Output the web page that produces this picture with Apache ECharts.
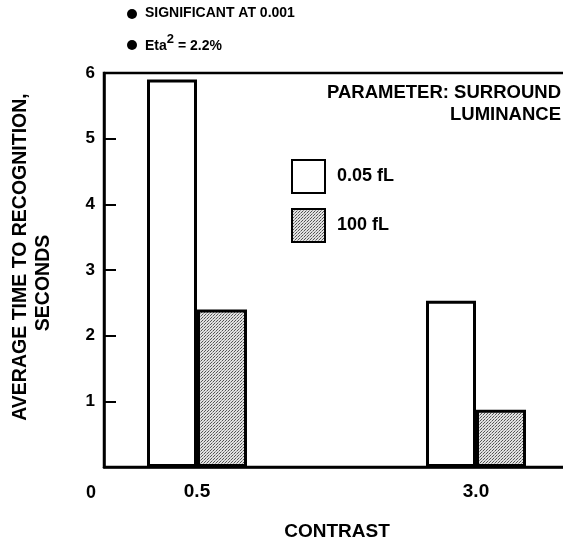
<!DOCTYPE html>
<html>
<head>
<meta charset="utf-8">
<script src="https://cdn.jsdelivr.net/npm/echarts@6/dist/echarts.min.js"></script>
<style>html,body{margin:0;padding:0;background:#fff}#c{width:563px;height:543px}</style>
</head>
<body>
<div id="c"></div>
<script>
// ---- data ----
const categories = ['0.5', '3.0'];
const seriesNames = ['0.05 fL', '100 fL'];
const lowSurround = [5.9, 2.53];
const highSurround = [2.4, 0.87];
const yTicks = [0, 1, 2, 3, 4, 5, 6];
const notes = ['SIGNIFICANT AT 0.001', 'Eta', '2', ' = 2.2%'];
const paramNote = ['PARAMETER: SURROUND', 'LUMINANCE'];
const yTitle = ['AVERAGE TIME TO RECOGNITION,', 'SECONDS'];
const xTitle = 'CONTRAST';
const originLabel = '0';

// ---- layout: categories placed on a slotted axis ----
const slotCount = 6;
const slotOf = [1, 4];
const axisData = new Array(slotCount).fill('');
categories.forEach((c, i) => { axisData[slotOf[i]] = c; });
function toSlots(vals) {
  const arr = new Array(slotCount).fill('-');
  vals.forEach((v, i) => { arr[slotOf[i]] = v; });
  return arr;
}

// dotted pattern
const pc = document.createElement('canvas');
pc.width = 3; pc.height = 3;
const pctx = pc.getContext('2d');
pctx.fillStyle = '#e2e2e2'; pctx.fillRect(0, 0, 3, 3);
pctx.fillStyle = '#555'; pctx.fillRect(0, 0, 1, 1); pctx.fillRect(1, 2, 1, 1);
pctx.fillStyle = '#999'; pctx.fillRect(2, 1, 1, 1);
const dotted = { image: pc, repeat: 'repeat' };

const FONT = 'Liberation Sans';
const chart = echarts.init(document.getElementById('c'), null, { renderer: 'canvas' });
chart.setOption({
  animation: false,
  backgroundColor: '#fff',
  textStyle: { fontFamily: FONT, fontWeight: 'bold', color: '#000' },
  grid: { left: 104, top: 73, height: 394, width: 465, outerBoundsMode: 'none', containLabel: false,
          show: true, borderColor: '#000', borderWidth: 2.5, backgroundColor: 'transparent' },
  legend: {
    orient: 'vertical', left: 286, top: 154, itemWidth: 33, itemHeight: 33, itemGap: 14,
    icon: 'rect',
    textStyle: { fontFamily: FONT, fontWeight: 'bold', fontSize: 18, color: '#000', padding: [0, 0, 0, 7] },
    data: seriesNames
  },
  xAxis: {
    type: 'category', data: axisData, boundaryGap: false,
    axisLine: { lineStyle: { color: '#000', width: 2.5 } },
    axisTick: { show: false },
    axisLabel: { interval: 0, margin: 15, fontSize: 19, fontWeight: 'bold', color: '#000', fontFamily: FONT }
  },
  yAxis: {
    type: 'value', min: yTicks[0], max: yTicks[yTicks.length - 1], interval: 1,
    splitLine: { show: false },
    axisLine: { show: true, lineStyle: { color: '#000', width: 2.5 } },
    axisTick: { show: true, inside: true, length: 12, lineStyle: { color: '#000', width: 2 } },
    axisLabel: { showMinLabel: false, margin: 9, fontSize: 17, fontWeight: 'bold', color: '#000', fontFamily: FONT }
  },
  series: [
    { name: seriesNames[0], type: 'bar', data: toSlots(lowSurround), barWidth: 50, barGap: '0%',
      itemStyle: { color: '#fff', borderColor: '#000', borderWidth: 3 } },
    { name: seriesNames[1], type: 'bar', data: toSlots(highSurround), barWidth: 50, barGap: '0%',
      itemStyle: { color: dotted, borderColor: '#000', borderWidth: 3 } }
  ],
  graphic: [
    { type: 'circle', shape: { cx: 132, cy: 14, r: 5 }, style: { fill: '#000' } },
    { type: 'text', left: 145, top: 6, style: { text: notes[0], font: 'bold 14px ' + FONT, fill: '#000' } },
    { type: 'circle', shape: { cx: 132, cy: 45, r: 5 }, style: { fill: '#000' } },
    { type: 'text', left: 145, top: 33, style: {
        text: '{a|' + notes[1] + '}{s|' + notes[2] + '}{a|' + notes[3] + '}',
        rich: { a: { font: 'bold 14px ' + FONT, fill: '#000', verticalAlign: 'bottom', lineHeight: 20 },
                s: { font: 'bold 13px ' + FONT, fill: '#000', verticalAlign: 'top', lineHeight: 20, padding: [0, 0, 6, 0] } } } },
    { type: 'text', right: 2, top: 83, style: { text: paramNote[0], font: 'bold 18.5px ' + FONT, fill: '#000' } },
    { type: 'text', right: 2, top: 105, style: { text: paramNote[1], font: 'bold 18.5px ' + FONT, fill: '#000' } },
    { type: 'text', x: 21, y: 257, rotation: Math.PI / 2, style: { text: yTitle[0], font: 'bold 19.5px ' + FONT, fill: '#000', align: 'center', verticalAlign: 'middle' } },
    { type: 'text', x: 44, y: 283, rotation: Math.PI / 2, style: { text: yTitle[1], font: 'bold 19.5px ' + FONT, fill: '#000', align: 'center', verticalAlign: 'middle' } },
    { type: 'text', x: 337, y: 532, style: { text: xTitle, font: 'bold 19px ' + FONT, fill: '#000', align: 'center', verticalAlign: 'middle' } },
    { type: 'text', x: 91, y: 493, style: { text: originLabel, font: 'bold 18px ' + FONT, fill: '#000', align: 'center', verticalAlign: 'middle' } }
  ]
});
</script>
</body>
</html>
